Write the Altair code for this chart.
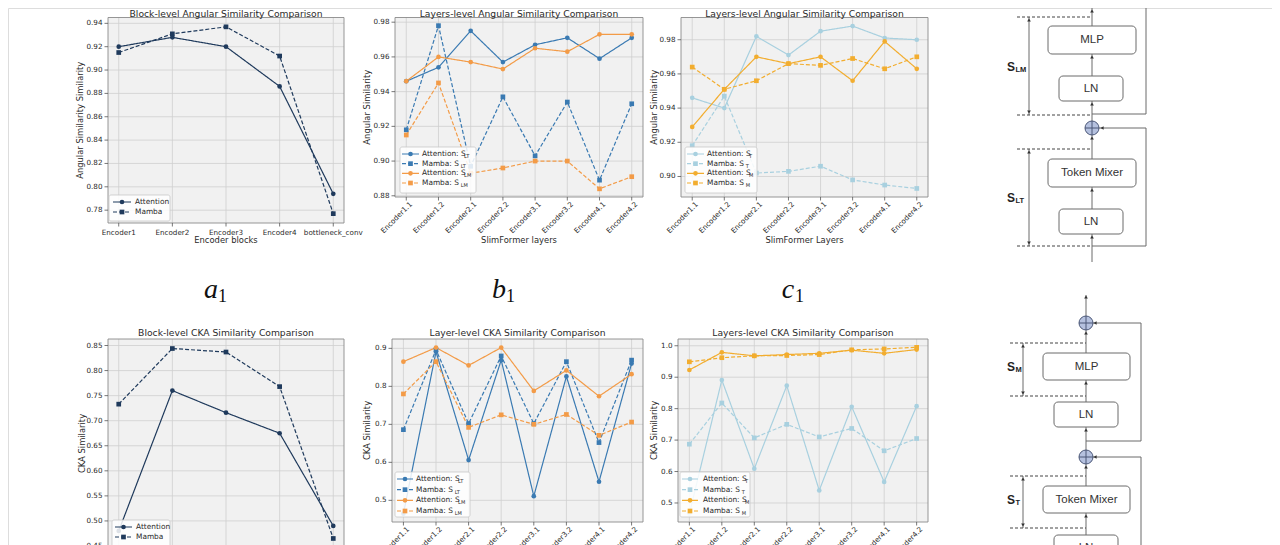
import altair as alt
import pandas as pd

# ---------------- categories / tick labels ----------------
blocks = ["Encoder1", "Encoder2", "Encoder3", "Encoder4", "bottleneck_conv"]
layers = ["Encoder1.1", "Encoder1.2", "Encoder2.1", "Encoder2.2",
          "Encoder3.1", "Encoder3.2", "Encoder4.1", "Encoder4.2"]

a1_ticks = [0.78, 0.80, 0.82, 0.84, 0.86, 0.88, 0.90, 0.92, 0.94]
b1_ticks = [0.88, 0.90, 0.92, 0.94, 0.96, 0.98]
c1_ticks = [0.90, 0.92, 0.94, 0.96, 0.98]
a2_ticks = [0.45, 0.50, 0.55, 0.60, 0.65, 0.70, 0.75, 0.80, 0.85]
b2_ticks = [0.5, 0.6, 0.7, 0.8, 0.9]
c2_ticks = [0.5, 0.6, 0.7, 0.8, 0.9, 1.0]

# ---------------- series values ----------------
a1_attention = [0.920, 0.928, 0.920, 0.886, 0.794]
a1_mamba = [0.915, 0.931, 0.937, 0.912, 0.777]

b1_att_slt = [0.946, 0.954, 0.975, 0.957, 0.967, 0.971, 0.959, 0.971]
b1_mam_slt = [0.918, 0.978, 0.897, 0.937, 0.903, 0.934, 0.889, 0.933]
b1_att_slm = [0.946, 0.960, 0.957, 0.953, 0.965, 0.963, 0.973, 0.973]
b1_mam_slm = [0.915, 0.945, 0.893, 0.896, 0.900, 0.900, 0.884, 0.891]

c1_att_st = [0.946, 0.940, 0.982, 0.971, 0.985, 0.988, 0.981, 0.980]
c1_mam_st = [0.918, 0.947, 0.902, 0.903, 0.906, 0.898, 0.895, 0.893]
c1_att_sm = [0.929, 0.951, 0.970, 0.966, 0.970, 0.956, 0.979, 0.963]
c1_mam_sm = [0.964, 0.951, 0.956, 0.966, 0.965, 0.969, 0.963, 0.970]

a2_attention = [0.480, 0.760, 0.716, 0.675, 0.490]
a2_mamba = [0.733, 0.844, 0.837, 0.768, 0.465]

b2_att_slt = [0.465, 0.891, 0.606, 0.869, 0.511, 0.826, 0.549, 0.860]
b2_mam_slt = [0.686, 0.896, 0.702, 0.880, 0.702, 0.865, 0.652, 0.869]
b2_att_slm = [0.865, 0.902, 0.855, 0.902, 0.788, 0.842, 0.774, 0.832]
b2_mam_slm = [0.780, 0.865, 0.692, 0.725, 0.700, 0.726, 0.671, 0.706]

c2_att_st = [0.466, 0.891, 0.609, 0.873, 0.540, 0.806, 0.567, 0.808]
c2_mam_st = [0.687, 0.818, 0.707, 0.750, 0.710, 0.737, 0.666, 0.705]
c2_att_sm = [0.923, 0.979, 0.968, 0.972, 0.976, 0.986, 0.976, 0.988]
c2_mam_sm = [0.949, 0.962, 0.968, 0.969, 0.972, 0.987, 0.990, 0.995]

# ---------------- diagram content (local units) ----------------
top_boxes = [("MLP", 68, 26, 156, 54), ("LN", 79, 76, 143, 101),
             ("Token Mixer", 68, 159, 156, 187), ("LN", 79, 209, 143, 234)]
top_circles = [(112, 0), (112, 128)]
top_solid = [(112, 262, 112, 0), (112, 114, 166, 114), (166, 114, 166, 0), (166, 0, 120, 0),
             (112, 246, 166, 246), (166, 246, 166, 128), (166, 128, 119, 128),
             (49, 17, 49, 115), (49, 149, 49, 246)]
top_dashed = [(37, 17, 112, 17), (37, 115, 112, 115), (37, 149, 112, 149), (37, 246, 112, 246)]
top_arrows = [(112, 11, "up"), (112, 57, "up"), (112, 104, "up"), (112, 138, "up"),
              (112, 190, "up"), (112, 237, "up"), (49, 20, "up"), (49, 152, "up"),
              (49, 112, "down"), (49, 243, "down"), (122, 128, "left"), (122, 0, "left")]
top_slabels = [("S", "LM", 31, 67), ("S", "LT", 31, 198)]

bot_boxes = [("MLP", 63, 73, 150, 100), ("LN", 74, 122, 138, 147),
             ("Token Mixer", 63, 206, 150, 233), ("LN", 74, 255, 138, 280)]
bot_circles = [(106, 43), (106, 177)]
bot_solid = [(106, 300, 106, 15), (106, 161, 161, 161), (161, 161, 161, 43), (161, 43, 113, 43),
             (161, 300, 161, 177), (161, 177, 113, 177),
             (43, 63, 43, 116), (43, 196, 43, 248)]
bot_dashed = [(30, 63, 106, 63), (30, 116, 106, 116), (30, 196, 106, 196), (30, 248, 106, 248)]
bot_arrows = [(106, 17, "up"), (106, 53, "up"), (106, 103, "up"), (106, 150, "up"),
              (106, 187, "up"), (106, 236, "up"), (43, 66, "up"), (43, 199, "up"),
              (43, 113, "down"), (43, 245, "down"), (115, 43, "left"), (115, 177, "left")]
bot_slabels = [("S", "M", 31, 87), ("S", "T", 31, 220)]

# ---------------- styling ----------------
OX, OY = 8, 8
W, H = 1264, 560
FONT = "DejaVu Sans"
TXT = "#2a2a2a"
GRID = "#cfcfcf"
BG = "#f1f1f1"
FRAME = "#8a8a8a"
TICK = "#555555"
NAVY = "#1f3a5c"
BLUE = "#3a7ab2"
ORANGE = "#f39b47"
LBLUE = "#a8d0df"
GOLD = "#f2ad2f"
LAB_FS = 7.2
TTL_FS = 8.4

CW = {"A": .684, "t": .392, "e": .615, "n": .634, "i": .278, "o": .612, ":": .337,
      " ": .318, "S": .635, "M": .863, "a": .613, "m": .974, "b": .635}


def tw(s, size):
    return sum(CW.get(ch, 0.6) for ch in s) * size


ONE = pd.DataFrame({"_": [0]})


def S(key, main, sub, values, color, dashed, shape):
    return dict(key=key, main=main, sub=sub, values=values, color=color,
                dashed=dashed, shape=shape)


def scales_for(series):
    keys = [s["key"] for s in series]
    color = alt.Color("key:N", scale=alt.Scale(domain=keys, range=[s["color"] for s in series]), legend=None)
    dash = alt.StrokeDash("key:N", scale=alt.Scale(domain=keys, range=[[4, 2] if s["dashed"] else [1, 0] for s in series]), legend=None)
    shape = alt.Shape("key:N", scale=alt.Scale(domain=keys, range=[s["shape"] for s in series]), legend=None)
    return color, dash, shape


def make_panel(cats, series, ydom, yticks, yfmt, rect, title, xtitle, ytitle, angle,
               title_dy, xtitle_dy, ytitle_dx):
    L, T, R, B = rect[0] - OX, rect[1] - OY, rect[2] - OX, rect[3] - OY
    n = len(cats)
    m = 0.05 * (n - 1)
    xdom = [-m, n - 1 + m]
    xs = alt.Scale(domain=xdom, range=[L, R], nice=False, zero=False)
    ys = alt.Scale(domain=ydom, range=[B, T], nice=False, zero=False)

    def XQ(f):
        return alt.X(f, scale=xs, axis=None)

    def YQ(f):
        return alt.Y(f, scale=ys, axis=None)

    def XD(v):
        return alt.XDatum(v, scale=xs, axis=None)

    def YD(v):
        return alt.YDatum(v, scale=ys, axis=None)

    rows = []
    for s in series:
        for i, v in enumerate(s["values"]):
            rows.append({"i": i, "v": v, "key": s["key"]})
    df = pd.DataFrame(rows)
    color, dash, shape = scales_for(series)
    xt = pd.DataFrame({"t": list(range(n)), "lab": cats})
    yt = pd.DataFrame({"t": yticks, "lab": [format(v, yfmt) for v in yticks]})

    bg = alt.Chart(ONE).mark_rect(fill=BG).encode(
        x=XD(xdom[0]), x2=alt.X2Datum(xdom[1]), y=YD(ydom[0]), y2=alt.Y2Datum(ydom[1]))
    gx = alt.Chart(xt).mark_rule(color=GRID, strokeWidth=0.8).encode(
        x=XQ("t:Q"), y=YD(ydom[0]), y2=alt.Y2Datum(ydom[1]))
    gy = alt.Chart(yt).mark_rule(color=GRID, strokeWidth=0.8).encode(
        y=YQ("t:Q"), x=XD(xdom[0]), x2=alt.X2Datum(xdom[1]))
    line = alt.Chart(df).mark_line(strokeWidth=1.2).encode(
        x=XQ("i:Q"), y=YQ("v:Q"), color=color, strokeDash=dash, detail="key:N")
    pts = alt.Chart(df).mark_point(filled=True, size=22, opacity=1).encode(
        x=XQ("i:Q"), y=YQ("v:Q"), color=color, shape=shape)
    frame = alt.Chart(ONE).mark_rect(fillOpacity=0, stroke=FRAME, strokeWidth=0.9).encode(
        x=XD(xdom[0]), x2=alt.X2Datum(xdom[1]), y=YD(ydom[0]), y2=alt.Y2Datum(ydom[1]))
    xtick = alt.Chart(xt).mark_point(shape="M0,0L0,1", size=49, filled=False, color=TICK,
                                     strokeWidth=0.8, opacity=1).encode(x=XQ("t:Q"), y=YD(ydom[0]))
    ytick = alt.Chart(yt).mark_point(shape="M0,0L-1,0", size=49, filled=False, color=TICK,
                                     strokeWidth=0.8, opacity=1).encode(x=XD(xdom[0]), y=YQ("t:Q"))
    if angle:
        xlab = alt.Chart(xt).mark_text(font=FONT, fontSize=LAB_FS, color=TXT, angle=315, align="right",
                                       baseline="top", dy=4, dx=-1).encode(
            x=XQ("t:Q"), y=YD(ydom[0]), text="lab:N")
    else:
        xlab = alt.Chart(xt).mark_text(font=FONT, fontSize=LAB_FS, color=TXT, align="center",
                                       baseline="top", dy=5.5).encode(
            x=XQ("t:Q"), y=YD(ydom[0]), text="lab:N")
    ylab = alt.Chart(yt).mark_text(font=FONT, fontSize=LAB_FS, color=TXT, align="right",
                                   baseline="middle", dx=-5.5).encode(
        x=XD(xdom[0]), y=YQ("t:Q"), text="lab:N")
    xttl = alt.Chart(ONE).mark_text(text=xtitle, font=FONT, fontSize=TTL_FS, color=TXT, align="center",
                                    baseline="top", dy=xtitle_dy).encode(
        x=XD((xdom[0] + xdom[1]) / 2), y=YD(ydom[0]))
    # rotated 270 deg: the text's own y offset points to the screen's right
    yttl = alt.Chart(ONE).mark_text(text=ytitle, font=FONT, fontSize=TTL_FS, color=TXT, align="center",
                                    baseline="middle", angle=270, dy=ytitle_dx).encode(
        x=XD(xdom[0]), y=YD((ydom[0] + ydom[1]) / 2))
    ttl = alt.Chart(ONE).mark_text(text=title, font=FONT, fontSize=9.2, color=TXT,
                                   baseline="alphabetic", align="center", dy=title_dy).encode(
        x=XD((xdom[0] + xdom[1]) / 2), y=YD(ydom[1]))
    return alt.layer(bg, gx, gy, line, pts, frame, xtick, ytick, xlab, ylab, xttl, yttl, ttl)


def make_legend(series, box, hx, tx, rowsy, fs=7.4):
    x0, y0, x1, y1 = box
    k = len(series)
    df = pd.DataFrame({"r": list(range(k)), "key": [s["key"] for s in series],
                       "main": [s["main"] for s in series], "sub": [s["sub"] for s in series]})
    color, dash, shape = scales_for(series)
    Y = alt.Y("r:Q", scale=alt.Scale(domain=[0, k - 1], range=[rowsy[0] - OY, rowsy[-1] - OY],
                                     nice=False, zero=False), axis=None)
    box_l = alt.Chart(ONE).mark_rect(fill="white", fillOpacity=0.85, stroke="#c8c8c8",
                                     strokeWidth=0.8, cornerRadius=2).encode(
        x=alt.value(x0 - OX), x2=alt.value(x1 - OX), y=alt.value(y0 - OY), y2=alt.value(y1 - OY))
    rl = alt.Chart(df).mark_rule(strokeWidth=1.2).encode(
        x=alt.value(hx[0] - OX), x2=alt.value(hx[1] - OX), y=Y, color=color, strokeDash=dash)
    pt = alt.Chart(df).mark_point(filled=True, size=22, opacity=1).encode(
        x=alt.value((hx[0] + hx[1]) / 2 - OX), y=Y, color=color, shape=shape)
    tx_l = alt.Chart(df).mark_text(font=FONT, fontSize=fs, color=TXT, align="left",
                                   baseline="middle").encode(x=alt.value(tx - OX), y=Y, text="main:N")
    parts = [box_l, rl, pt, tx_l]
    if any(s["sub"] for s in series):
        mains = []
        for s in series:
            if s["main"] not in mains:
                mains.append(s["main"])
        subx = alt.X("main:N", scale=alt.Scale(domain=mains, range=[tx - OX + tw(mm, fs) for mm in mains]),
                     axis=None)
        sb = alt.Chart(df).mark_text(font=FONT, fontSize=fs * 0.68, color=TXT, align="left",
                                     baseline="middle", dy=2).encode(x=subx, y=Y, text="sub:N")
        parts.append(sb)
    return alt.layer(*parts)


def make_diagram(ox, oy, boxes, circles, solid, dashed, arrows, slabels):
    xs = alt.Scale(domain=[0, 170], range=[ox - OX, ox + 170 - OX], nice=False, zero=False)
    ys = alt.Scale(domain=[0, 270], range=[oy - OY, oy + 270 - OY], nice=False, zero=False)

    def XY(fx, fy):
        return dict(x=alt.X(fx, scale=xs, axis=None), y=alt.Y(fy, scale=ys, axis=None))

    seg_s = pd.DataFrame(solid, columns=["x1", "y1", "x2", "y2"])
    seg_d = pd.DataFrame(dashed, columns=["x1", "y1", "x2", "y2"])
    bx = pd.DataFrame(boxes, columns=["label", "x1", "y1", "x2", "y2"])
    bx["cx"] = (bx["x1"] + bx["x2"]) / 2
    bx["cy"] = (bx["y1"] + bx["y2"]) / 2
    cc = pd.DataFrame(circles, columns=["x", "y"])
    ar = pd.DataFrame(arrows, columns=["x", "y", "d"])
    sl = pd.DataFrame(slabels, columns=["s", "sub", "x", "y"])

    l_solid = alt.Chart(seg_s).mark_rule(color="#6b6b6b", strokeWidth=1).encode(
        x2="x2:Q", y2="y2:Q", **XY("x1:Q", "y1:Q"))
    l_dash = alt.Chart(seg_d).mark_rule(color="#444444", strokeWidth=1, strokeDash=[3, 2]).encode(
        x2="x2:Q", y2="y2:Q", **XY("x1:Q", "y1:Q"))
    l_box = alt.Chart(bx).mark_rect(fill="white", stroke="#6b6b6b", strokeWidth=1, cornerRadius=4).encode(
        x2="x2:Q", y2="y2:Q", **XY("x1:Q", "y1:Q"))
    l_btx = alt.Chart(bx).mark_text(font="Liberation Sans", fontSize=11.5, color="#333333",
                                    baseline="middle").encode(text="label:N", **XY("cx:Q", "cy:Q"))
    l_cir = alt.Chart(cc).mark_point(shape="circle", filled=True, size=196, color="#b5c1df",
                                     stroke="#4b5777", strokeWidth=1, opacity=1).encode(**XY("x:Q", "y:Q"))
    l_plus = alt.Chart(cc).mark_point(shape="M-1,0L1,0M0,-1L0,1", size=196, filled=False,
                                      color="#4b5777", strokeWidth=1, opacity=1).encode(**XY("x:Q", "y:Q"))
    l_arr = alt.Chart(ar).mark_point(filled=True, size=14, color="#333333", opacity=1).encode(
        shape=alt.Shape("d:N", scale=alt.Scale(domain=["up", "down", "left"],
                                               range=["triangle-up", "triangle-down", "triangle-left"]),
                        legend=None), **XY("x:Q", "y:Q"))
    l_s = alt.Chart(sl).mark_text(font="Liberation Sans", fontSize=12, fontWeight="bold", color="#222222",
                                  align="center", baseline="middle").encode(text="s:N", **XY("x:Q", "y:Q"))
    l_sub = alt.Chart(sl).mark_text(font="Liberation Sans", fontSize=7.5, fontWeight="bold", color="#222222",
                                    align="left", baseline="middle", dx=4.5, dy=3).encode(
        text="sub:N", **XY("x:Q", "y:Q"))
    return alt.layer(l_solid, l_dash, l_box, l_btx, l_cir, l_plus, l_arr, l_s, l_sub)


def math_label(letter, x, y):
    a = alt.Chart(ONE).mark_text(text=letter, font="Liberation Serif", fontStyle="italic", fontSize=28,
                                 color="#111111", align="center", baseline="alphabetic").encode(
        x=alt.value(x - OX), y=alt.value(y - OY))
    b = alt.Chart(ONE).mark_text(text="1", font="Liberation Serif", fontSize=18, color="#111111",
                                 align="left", baseline="alphabetic").encode(
        x=alt.value(x + 7 - OX), y=alt.value(y + 4 - OY))
    return alt.layer(a, b)


# ---------------- series sets ----------------
a1_series = [S("Attention", "Attention", "", a1_attention, NAVY, False, "circle"),
             S("Mamba", "Mamba", "", a1_mamba, NAVY, True, "square")]
b1_series = [S("att_slt", "Attention: S", "LT", b1_att_slt, BLUE, False, "circle"),
             S("mam_slt", "Mamba: S", "LT", b1_mam_slt, BLUE, True, "square"),
             S("att_slm", "Attention: S", "LM", b1_att_slm, ORANGE, False, "circle"),
             S("mam_slm", "Mamba: S", "LM", b1_mam_slm, ORANGE, True, "square")]
c1_series = [S("att_st", "Attention: S", "T", c1_att_st, LBLUE, False, "circle"),
             S("mam_st", "Mamba: S", "T", c1_mam_st, LBLUE, True, "square"),
             S("att_sm", "Attention: S", "M", c1_att_sm, GOLD, False, "circle"),
             S("mam_sm", "Mamba: S", "M", c1_mam_sm, GOLD, True, "square")]
a2_series = [S("Attention", "Attention", "", a2_attention, NAVY, False, "circle"),
             S("Mamba", "Mamba", "", a2_mamba, NAVY, True, "square")]
b2_series = [S("att_slt", "Attention: S", "LT", b2_att_slt, BLUE, False, "circle"),
             S("mam_slt", "Mamba: S", "LT", b2_mam_slt, BLUE, True, "square"),
             S("att_slm", "Attention: S", "LM", b2_att_slm, ORANGE, False, "circle"),
             S("mam_slm", "Mamba: S", "LM", b2_mam_slm, ORANGE, True, "square")]
c2_series = [S("att_st", "Attention: S", "T", c2_att_st, LBLUE, False, "circle"),
             S("mam_st", "Mamba: S", "T", c2_mam_st, LBLUE, True, "square"),
             S("att_sm", "Attention: S", "M", c2_att_sm, GOLD, False, "circle"),
             S("mam_sm", "Mamba: S", "M", c2_mam_sm, GOLD, True, "square")]

children = [
    make_panel(blocks, a1_series, [0.769, 0.945], a1_ticks, ".2f", (108, 17.5, 344, 223),
               "Block-level Angular Similarity Comparison", "Encoder blocks",
               "Angular Similarity Similarity", 0, -1, 12.5, -28),
    make_panel(layers, b1_series, [0.8793, 0.9827], b1_ticks, ".2f", (395, 17.5, 643, 197),
               "Layers-level Angular Similarity Comparison", "SlimFormer layers",
               "Angular Similarity", -45, -1, 38.5, -28),
    make_panel(layers, c1_series, [0.888, 0.993], c1_ticks, ".2f", (681, 17.5, 928, 197),
               "Layers-level Angular Similarity Comparison", "SlimFormer Layers",
               "Angular Similarity", -45, -1, 38.5, -27),
    make_panel(blocks, a2_series, [0.446, 0.863], a2_ticks, ".2f", (108, 339, 344, 548),
               "Block-level CKA Similarity Comparison", "Encoder blocks",
               "CKA Similarity", 0, -3.5, 12.5, -26),
    make_panel(layers, b2_series, [0.443, 0.9246], b2_ticks, ".1f", (392, 339, 643, 522),
               "Layer-level CKA Similarity Comparison", "SlimFormer layers",
               "CKA Similarity", -45, -3.5, 38.5, -25),
    make_panel(layers, c2_series, [0.4395, 1.0215], c2_ticks, ".1f", (678, 339, 928, 522),
               "Layers-level CKA Similarity Comparison", "SlimFormer Layers",
               "CKA Similarity", -45, -3.5, 38.5, -24),
    make_legend(a1_series, (109, 195, 170, 221), (113, 131), 135, [202, 212]),
    make_legend(b1_series, (400, 147, 476, 193), (402, 419), 422, [154, 164, 173.5, 183]),
    make_legend(c1_series, (685, 147, 757, 193), (687, 704), 707, [154, 164, 173.5, 183]),
    make_legend(a2_series, (112, 520, 170, 552), (115, 132), 136, [527, 537]),
    make_legend(b2_series, (395, 472, 470, 517), (397, 413), 416, [479, 489, 500, 511]),
    make_legend(c2_series, (680, 472, 750, 517), (682, 698), 703, [479, 489, 500, 511]),
    make_diagram(980, 0, top_boxes, top_circles, top_solid, top_dashed, top_arrows, top_slabels),
    make_diagram(980, 280, bot_boxes, bot_circles, bot_solid, bot_dashed, bot_arrows, bot_slabels),
    math_label("a", 211, 298),
    math_label("b", 499, 298),
    math_label("c", 788, 298),
]

chart = alt.layer(*children).resolve_scale(
    x="independent", y="independent", color="independent", strokeDash="independent", shape="independent"
).properties(
    width=W, height=H, autosize=alt.AutoSizeParams(type="none"), padding=0
).configure_view(strokeWidth=0, stroke="transparent").configure(background="white")

chart.save("out.html", embed_options={"renderer": "svg", "actions": False})
